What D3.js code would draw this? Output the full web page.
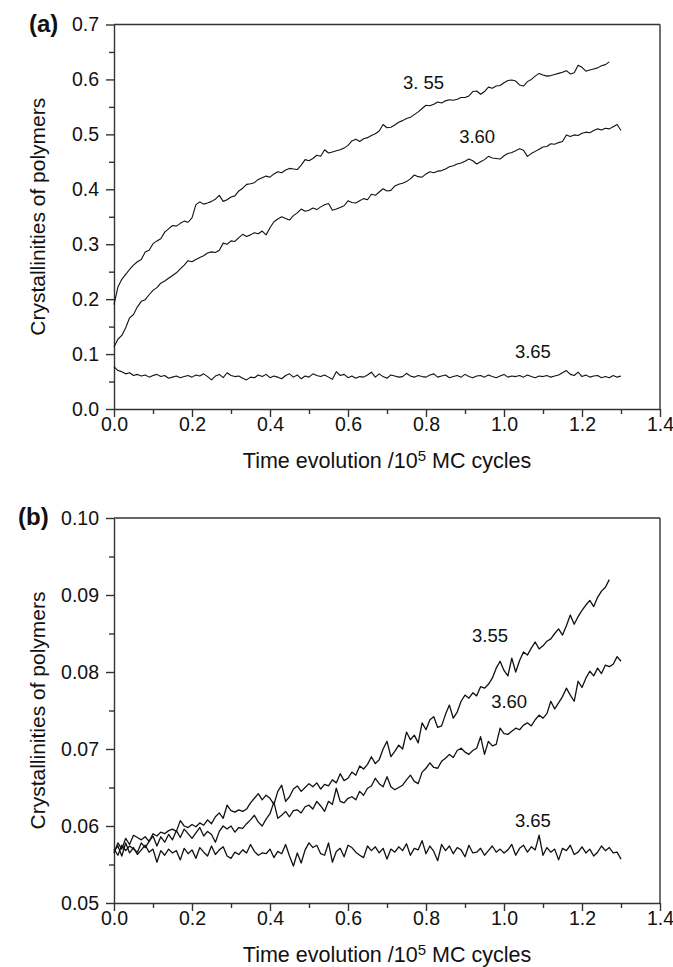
<!DOCTYPE html>
<html>
<head>
<meta charset="utf-8">
<script src="https://cdn.jsdelivr.net/npm/d3@7"></script>
<style>
  body { margin: 0; background: #fff; }
  svg { display: block; font-family: "Liberation Sans", Arial, sans-serif; }
  .axis path, .axis line { stroke: #333; stroke-width: 1.4; }
  .axis text { font-size: 19.5px; fill: #111; }
  .curve { fill: none; stroke: #111; stroke-linejoin: round; }
</style>
</head>
<body>
<div id="chart"></div>
<script>
// sampling step of the simulation output, in 10^5 MC cycles
const step = 0.01;

// (a) crystallinity vs time, three temperatures
const a355 = [0.190,0.222,0.236,0.245,0.254,0.262,0.268,0.272,0.286,0.289,
  0.301,0.306,0.310,0.322,0.328,0.334,0.333,0.338,0.342,0.340,
  0.348,0.372,0.377,0.373,0.375,0.378,0.382,0.389,0.378,0.381,
  0.386,0.388,0.397,0.402,0.409,0.410,0.412,0.418,0.421,0.424,
  0.422,0.428,0.432,0.430,0.435,0.438,0.437,0.436,0.444,0.454,
  0.452,0.456,0.462,0.460,0.472,0.466,0.468,0.470,0.472,0.475,
  0.480,0.488,0.491,0.487,0.492,0.494,0.498,0.501,0.506,0.518,
  0.512,0.513,0.517,0.522,0.525,0.529,0.531,0.536,0.541,0.547,
  0.553,0.552,0.555,0.559,0.557,0.561,0.563,0.562,0.564,0.567,
  0.567,0.570,0.578,0.579,0.573,0.578,0.586,0.584,0.588,0.589,
  0.594,0.598,0.599,0.597,0.590,0.588,0.596,0.600,0.606,0.611,
  0.608,0.606,0.607,0.609,0.611,0.613,0.616,0.610,0.612,0.626,
  0.622,0.615,0.617,0.619,0.621,0.625,0.627,0.632];

const a360 = [0.113,0.127,0.134,0.148,0.166,0.172,0.186,0.196,0.199,0.208,
  0.216,0.221,0.229,0.233,0.238,0.243,0.248,0.255,0.262,0.270,
  0.268,0.272,0.276,0.279,0.284,0.286,0.285,0.289,0.302,0.300,
  0.306,0.305,0.312,0.318,0.314,0.317,0.321,0.319,0.324,0.317,
  0.330,0.341,0.346,0.350,0.347,0.344,0.352,0.357,0.364,0.360,
  0.362,0.366,0.363,0.368,0.372,0.374,0.362,0.364,0.367,0.370,
  0.379,0.376,0.375,0.379,0.383,0.381,0.391,0.389,0.395,0.401,
  0.397,0.398,0.406,0.409,0.411,0.414,0.419,0.426,0.423,0.422,
  0.428,0.432,0.430,0.433,0.434,0.437,0.441,0.443,0.446,0.448,
  0.451,0.455,0.452,0.446,0.450,0.454,0.460,0.457,0.456,0.455,
  0.461,0.465,0.467,0.470,0.474,0.471,0.460,0.465,0.469,0.473,
  0.477,0.478,0.483,0.482,0.485,0.487,0.499,0.496,0.499,0.498,
  0.502,0.504,0.503,0.507,0.510,0.508,0.511,0.510,0.514,0.518,
  0.507];

const a365 = [0.077,0.070,0.068,0.064,0.066,0.061,0.063,0.060,0.062,0.058,
  0.061,0.063,0.059,0.061,0.056,0.058,0.060,0.057,0.059,0.061,
  0.058,0.062,0.060,0.064,0.059,0.053,0.060,0.063,0.057,0.066,
  0.061,0.059,0.060,0.056,0.053,0.058,0.057,0.062,0.059,0.063,
  0.057,0.060,0.058,0.055,0.061,0.064,0.058,0.062,0.055,0.060,
  0.058,0.064,0.061,0.059,0.062,0.058,0.054,0.068,0.061,0.063,
  0.057,0.060,0.056,0.059,0.058,0.062,0.067,0.058,0.064,0.059,
  0.056,0.062,0.060,0.058,0.059,0.065,0.060,0.058,0.061,0.059,
  0.058,0.062,0.064,0.058,0.060,0.062,0.057,0.059,0.061,0.058,
  0.063,0.059,0.057,0.060,0.061,0.058,0.062,0.059,0.057,0.060,
  0.063,0.058,0.060,0.059,0.061,0.058,0.062,0.059,0.057,0.060,
  0.059,0.061,0.058,0.060,0.062,0.066,0.070,0.063,0.061,0.067,
  0.059,0.062,0.058,0.060,0.061,0.057,0.059,0.057,0.061,0.058,
  0.060];

// (b) early stage, expanded scale
const b355 = [0.0565,0.0578,0.0570,0.0584,0.0576,0.0588,0.0585,0.0582,0.0586,0.0580,
  0.0590,0.0587,0.0592,0.0590,0.0594,0.0596,0.0593,0.0607,0.0600,0.0598,
  0.0602,0.0599,0.0604,0.0601,0.0608,0.0603,0.0612,0.0617,0.0610,0.0627,
  0.0620,0.0618,0.0621,0.0619,0.0622,0.0630,0.0636,0.0642,0.0634,0.0640,
  0.0636,0.0628,0.0645,0.0653,0.0632,0.0638,0.0648,0.0652,0.0645,0.0650,
  0.0655,0.0651,0.0656,0.0648,0.0654,0.0652,0.0660,0.0656,0.0668,0.0659,
  0.0662,0.0670,0.0666,0.0678,0.0674,0.0680,0.0690,0.0681,0.0686,0.0700,
  0.0710,0.0690,0.0697,0.0705,0.0700,0.0722,0.0712,0.0718,0.0708,0.0734,
  0.0725,0.0738,0.0742,0.0728,0.0730,0.0745,0.0757,0.0740,0.0748,0.0762,
  0.0770,0.0766,0.0773,0.0769,0.0781,0.0779,0.0784,0.0792,0.0805,0.0814,
  0.0802,0.0795,0.0818,0.0800,0.0815,0.0826,0.0822,0.0831,0.0839,0.0830,
  0.0834,0.0840,0.0843,0.0850,0.0856,0.0848,0.0860,0.0874,0.0862,0.0872,
  0.0880,0.0887,0.0893,0.0885,0.0897,0.0905,0.0910,0.0920];

const b360 = [0.0570,0.0562,0.0575,0.0568,0.0574,0.0570,0.0566,0.0578,0.0572,0.0580,
  0.0587,0.0574,0.0586,0.0579,0.0589,0.0582,0.0594,0.0585,0.0596,0.0590,
  0.0584,0.0591,0.0598,0.0587,0.0593,0.0589,0.0579,0.0593,0.0600,0.0596,
  0.0600,0.0592,0.0598,0.0597,0.0603,0.0608,0.0614,0.0605,0.0600,0.0609,
  0.0616,0.0631,0.0610,0.0614,0.0619,0.0612,0.0620,0.0621,0.0617,0.0625,
  0.0627,0.0622,0.0632,0.0626,0.0619,0.0632,0.0628,0.0649,0.0632,0.0630,
  0.0636,0.0638,0.0634,0.0645,0.0640,0.0649,0.0652,0.0662,0.0655,0.0651,
  0.0664,0.0651,0.0647,0.0650,0.0653,0.0660,0.0666,0.0658,0.0655,0.0670,
  0.0675,0.0682,0.0676,0.0675,0.0684,0.0688,0.0693,0.0689,0.0698,0.0701,
  0.0696,0.0693,0.0698,0.0701,0.0716,0.0693,0.0710,0.0704,0.0706,0.0727,
  0.0720,0.0719,0.0723,0.0727,0.0725,0.0731,0.0734,0.0730,0.0738,0.0744,
  0.0740,0.0746,0.0762,0.0752,0.0760,0.0768,0.0779,0.0770,0.0762,0.0788,
  0.0780,0.0792,0.0801,0.0795,0.0805,0.0798,0.0809,0.0807,0.0810,0.0820,
  0.0814];

const b365 = [0.0568,0.0574,0.0561,0.0578,0.0565,0.0572,0.0563,0.0569,0.0575,0.0566,
  0.0570,0.0553,0.0568,0.0562,0.0570,0.0565,0.0568,0.0556,0.0571,0.0564,
  0.0569,0.0558,0.0572,0.0566,0.0561,0.0574,0.0563,0.0569,0.0573,0.0561,
  0.0558,0.0566,0.0563,0.0569,0.0565,0.0576,0.0567,0.0562,0.0565,0.0564,
  0.0570,0.0559,0.0567,0.0564,0.0576,0.0561,0.0548,0.0565,0.0552,0.0569,
  0.0578,0.0572,0.0575,0.0564,0.0562,0.0578,0.0553,0.0567,0.0571,0.0560,
  0.0575,0.0572,0.0566,0.0562,0.0559,0.0574,0.0568,0.0573,0.0565,0.0571,
  0.0557,0.0570,0.0566,0.0573,0.0568,0.0577,0.0562,0.0571,0.0569,0.0581,
  0.0564,0.0574,0.0567,0.0555,0.0576,0.0568,0.0574,0.0564,0.0572,0.0569,
  0.0560,0.0575,0.0565,0.0566,0.0571,0.0562,0.0568,0.0574,0.0566,0.0570,
  0.0565,0.0569,0.0576,0.0562,0.0571,0.0575,0.0566,0.0573,0.0569,0.0588,
  0.0562,0.0572,0.0566,0.0570,0.0556,0.0571,0.0568,0.0575,0.0563,0.0566,
  0.0573,0.0565,0.0570,0.0561,0.0566,0.0574,0.0568,0.0572,0.0565,0.0566,
  0.0557];

// tick values
const xTicks = [0, 0.2, 0.4, 0.6, 0.8, 1.0, 1.2, 1.4];
const xMinor = [0.1, 0.3, 0.5, 0.7, 0.9, 1.1, 1.3];
const yTicksA = [0, 0.1, 0.2, 0.3, 0.4, 0.5, 0.6, 0.7];
const yMinorA = [0.05, 0.15, 0.25, 0.35, 0.45, 0.55, 0.65];
const yTicksB = [0.05, 0.06, 0.07, 0.08, 0.09, 0.10];
const yMinorB = [0.055, 0.065, 0.075, 0.085, 0.095];

// curve labels: [text, time, crystallinity]
const labelsA = [["3. 55", 0.741, 0.582], ["3.60", 0.885, 0.484], ["3.65", 1.028, 0.093]];
const labelsB = [["3.55", 0.918, 0.0839], ["3.60", 0.967, 0.0753], ["3.65", 1.028, 0.0599]];

const width = 673, height = 967;

const svg = d3.select("#chart").append("svg")
  .attr("width", width)
  .attr("height", height);

function toPoints(vals) {
  return vals.map((v, i) => [i * step, v]);
}

function drawPanel(opts) {
  const x = d3.scaleLinear().domain([0, 1.4]).range([114, 660]);
  const y = d3.scaleLinear().domain(opts.yDomain).range([opts.bottom, opts.top]);
  const g = svg.append("g");

  // frame (top + right)
  g.append("line").attr("x1", 114).attr("x2", 660).attr("y1", opts.top).attr("y2", opts.top)
    .attr("stroke", "#333").attr("stroke-width", 1.4);
  g.append("line").attr("x1", 660).attr("x2", 660).attr("y1", opts.top).attr("y2", opts.bottom)
    .attr("stroke", "#333").attr("stroke-width", 1.4);

  // minor ticks first
  g.append("g").attr("class", "axis")
    .attr("transform", `translate(0,${opts.bottom})`)
    .call(d3.axisBottom(x).tickValues(xMinor).tickSize(5).tickFormat(""))
    .select(".domain").remove();
  g.append("g").attr("class", "axis")
    .attr("transform", "translate(114,0)")
    .call(d3.axisLeft(y).tickValues(opts.yMinor).tickSize(5).tickFormat(""))
    .select(".domain").remove();

  g.append("g").attr("class", "axis")
    .attr("transform", `translate(0,${opts.bottom})`)
    .call(d3.axisBottom(x).tickValues(xTicks).tickSize(8).tickSizeOuter(0)
      .tickPadding(0).tickFormat(d3.format(".1f")));
  g.append("g").attr("class", "axis")
    .attr("transform", "translate(114,0)")
    .call(d3.axisLeft(y).tickValues(opts.yTicks).tickSize(8).tickSizeOuter(0)
      .tickPadding(7).tickFormat(d3.format(opts.yFormat)));

  const line = d3.line().x(d => x(d[0])).y(d => y(d[1]));
  opts.series.forEach(s => {
    g.append("path").attr("class", "curve")
      .attr("stroke-width", opts.lineWidth)
      .attr("d", line(toPoints(s)));
  });

  g.selectAll(".lbl").data(opts.labels).enter().append("text")
    .attr("class", "lbl")
    .attr("x", d => x(d[1]))
    .attr("y", d => y(d[2]))
    .attr("font-size", 18.5)
    .attr("fill", "#111")
    .text(d => d[0]);

  // axis titles
  const xt = g.append("text")
    .attr("x", 387).attr("y", opts.bottom + 59)
    .attr("text-anchor", "middle")
    .attr("font-size", 21.5).attr("fill", "#111");
  xt.append("tspan").text("Time evolution /10");
  xt.append("tspan").attr("font-size", 15).attr("dy", -7).text("5");
  xt.append("tspan").attr("dy", 7).text(" MC cycles");

  g.append("text")
    .attr("transform", `translate(45,${(opts.top + opts.bottom) / 2}) rotate(-90)`)
    .attr("text-anchor", "middle")
    .attr("font-size", 21).attr("fill", "#111")
    .text("Crystallinities of polymers");

  g.append("text")
    .attr("x", opts.tagX).attr("y", opts.top + 7)
    .attr("font-size", 24).attr("font-weight", "bold").attr("fill", "#111")
    .text(opts.tag);
}

drawPanel({
  top: 24.5, bottom: 409, yDomain: [0, 0.7],
  yTicks: yTicksA, yMinor: yMinorA, yFormat: ".1f",
  series: [a355, a360, a365], labels: labelsA, lineWidth: 1.1,
  tag: "(a)", tagX: 29
});

drawPanel({
  top: 518, bottom: 903, yDomain: [0.05, 0.10],
  yTicks: yTicksB, yMinor: yMinorB, yFormat: ".2f",
  series: [b355, b360, b365], labels: labelsB, lineWidth: 1.3,
  tag: "(b)", tagX: 18
});
</script>
</body>
</html>
